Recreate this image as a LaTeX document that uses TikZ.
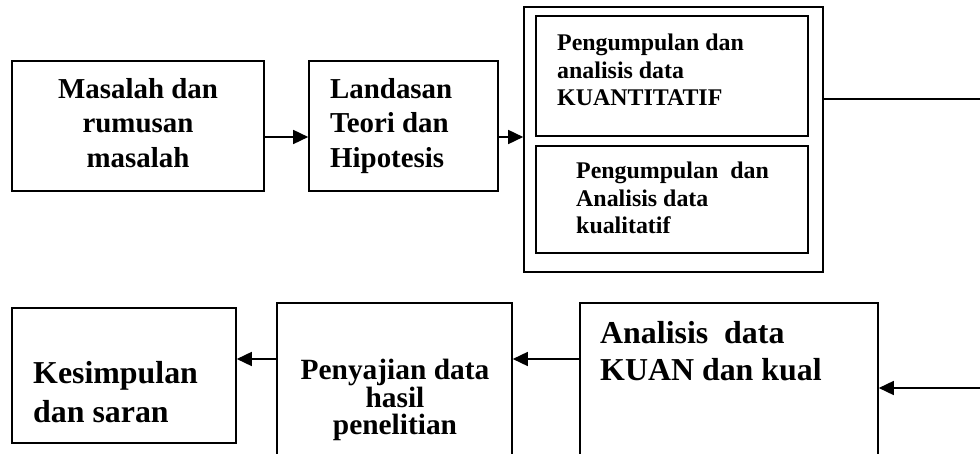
\documentclass[tikz,border=0pt]{standalone}
\usepackage{fontspec}
\setmainfont{Liberation Serif}
\usetikzlibrary{arrows.meta}

\begin{document}
\begin{tikzpicture}[x=1bp, y=-1bp,
  box/.style={draw, line width=1.6bp, inner sep=0pt},
  lbl/.style={inner sep=0pt, align=left},
  arr/.style={-{Triangle[length=15bp,width=14bp]}, line width=1.6bp}
]
\useasboundingbox (0,0) rectangle (980,454);
% baris atas
\node[box, minimum width=252bp, minimum height=130bp] (masalah) at (138,126) {};
\node[lbl, align=center, font=\fontsize{29}{34.5}\selectfont\bfseries] (masalahT) at (138,123) {Masalah dan\\rumusan\\masalah};
\node[box, minimum width=189bp, minimum height=130bp] (landasan) at (403.5,126) {};
\node[lbl, anchor=west, font=\fontsize{29}{34.5}\selectfont\bfseries] (landasanT) at (330,126) {Landasan\\Teori dan\\Hipotesis};
\node[box, minimum width=299bp, minimum height=265bp] (metode) at (673.5,139.5) {};
\node[box, minimum width=272bp, minimum height=120bp] (kuan) at (672,76) {};
\node[lbl, anchor=west, font=\fontsize{24}{27.5}\selectfont\bfseries] (kuanT) at (557,70) {Pengumpulan dan\\analisis data\\KUANTITATIF};
\node[box, minimum width=272bp, minimum height=107bp] (kual) at (672,199.5) {};
\node[lbl, anchor=west, font=\fontsize{24}{27.5}\selectfont\bfseries] (kualT) at (576,198) {Pengumpulan\ \ dan\\Analisis data\\kualitatif};
% baris bawah
\node[box, minimum width=224bp, minimum height=135bp] (simpulan) at (124,375.5) {};
\node[lbl, anchor=west, font=\fontsize{32}{39}\selectfont\bfseries] (simpulanT) at (33,392) {Kesimpulan\\dan saran};
\node[box, minimum width=235bp, minimum height=167bp] (sajian) at (394.5,386.5) {};
\node[lbl, align=center, font=\fontsize{29.5}{28}\selectfont\bfseries] (sajianT) at (395,400) {Penyajian data\\hasil\\penelitian};
\node[box, minimum width=298bp, minimum height=167bp] (analisis) at (729,386.5) {};
\node[lbl, anchor=west, font=\fontsize{32}{37}\selectfont\bfseries] (analisisT) at (600,351) {Analisis\ \ data\\KUAN dan kual};
\coordinate (kanan1) at (980,99);
\coordinate (kanan2) at (980,388);
% panah
\draw[arr] ([yshift=-11bp]masalah.east) -- ([yshift=-11bp]masalah.east -| landasan.west);
\draw[arr] ([yshift=-11bp]landasan.east) -- ([yshift=-11bp]landasan.east -| metode.west);
\draw[line width=1.6bp] (metode.east |- kanan1) -- (kanan1);
\draw[arr] (kanan2) -- (kanan2 -| analisis.east);
\draw[arr] ([yshift=27.5bp]analisis.west) -- ([yshift=27.5bp]analisis.west -| sajian.east);
\draw[arr] ([yshift=27.5bp]sajian.west) -- ([yshift=27.5bp]sajian.west -| simpulan.east);
\end{tikzpicture}
\end{document}
